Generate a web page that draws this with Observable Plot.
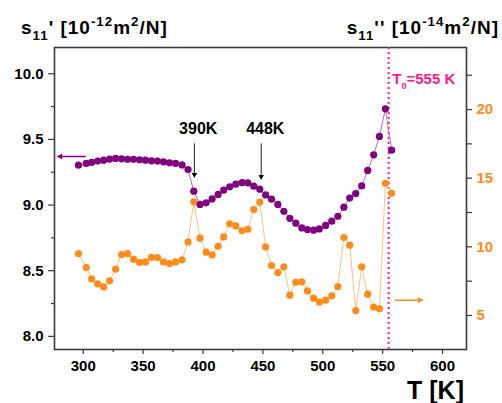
<!DOCTYPE html>
<html><head><meta charset="utf-8">
<script src="https://cdn.jsdelivr.net/npm/d3@7"></script>
<script src="https://cdn.jsdelivr.net/npm/@observablehq/plot@0.6"></script>
<style>body{margin:0;background:#fff} svg{display:block}</style>
</head><body><div id="chart"></div>
<script>
// Temperature [K]
const T = [296, 302.5, 307, 312, 317, 322, 327, 332, 337, 342, 347, 352, 357, 362, 367, 372, 377, 382.5, 387.5, 392.3,
  397.5, 402.6, 407.6, 412.6, 417.3, 422.3, 427.4, 432.6, 437.4, 442.4, 447.4, 452.3, 457.2, 462.5, 467.5, 472.5,
  477.5, 482.5, 487.2, 492.3, 497.1, 502.4, 507.5, 512.6, 517.6, 522.5, 527.5, 532.5, 537.5, 542.5, 547.3, 552.3, 557.5];
// s11' [1e-12 m2/N]  (left axis)
const s11re = [9.304, 9.317, 9.325, 9.335, 9.342, 9.350, 9.355, 9.352, 9.348, 9.348, 9.345, 9.342, 9.337, 9.335, 9.329,
  9.322, 9.317, 9.306, 9.271, 9.106, 9.005, 9.017, 9.047, 9.081, 9.114, 9.139, 9.159, 9.171, 9.169, 9.144, 9.121,
  9.077, 9.045, 9.005, 8.952, 8.899, 8.862, 8.826, 8.813, 8.809, 8.818, 8.845, 8.877, 8.915, 8.984, 9.053, 9.088,
  9.146, 9.264, 9.383, 9.523, 9.733, 9.418];
// s11'' [1e-14 m2/N]  (right axis)
const s11im = [9.51, 8.49, 7.66, 7.30, 7.08, 7.52, 8.37, 9.44, 9.51, 9.10, 8.86, 8.90, 9.24, 9.22, 8.90, 8.78, 8.90,
  9.05, 10.36, 13.28, 10.63, 9.61, 9.41, 10.04, 10.72, 11.68, 11.52, 11.17, 11.28, 12.71, 13.26, 9.99, 8.64, 8.13,
  8.54, 6.48, 7.42, 7.45, 6.79, 6.26, 5.97, 6.11, 6.43, 7.11, 10.68, 10.12, 5.36, 8.54, 6.55, 5.60, 5.48, 14.63, 13.90];

const xTicks = [300, 350, 400, 450, 500, 550, 600];
const xMinor = [325, 375, 425, 475, 525, 575];
const leftTicks = [8.0, 8.5, 9.0, 9.5, 10.0];
const leftMinor = [8.25, 8.75, 9.25, 9.75];
const rightTicks = [5, 10, 15, 20];
const rightMinor = [7.5, 12.5, 17.5, 22.5];
const leftDomain = [7.9, 10.2];
const rightDomain = [2.52, 24.52];
const xDomain = [276, 620];
const T0 = 555;

// annotations: label, label position, arrow (x, yFrom, yTo)
const annLabels = ["390K", "448K"];
const annLabelX = [396, 452];
const annLabelY = [9.58, 9.58];
const annArrowX = [392.8, 448.6];
const annArrowY1 = [9.47, 9.47];
const annArrowY2 = [9.213, 9.198];
// axis-pointer arrows
const leftPtr = {x1: 302, x2: 278.5, y: 9.37};      // purple, left axis
const rightPtr = {x1: 560, x2: 583.5, v: 6.11};     // orange, right axis

const toLeft = v => leftDomain[0] + (v - rightDomain[0]) / (rightDomain[1] - rightDomain[0]) * (leftDomain[1] - leftDomain[0]);

const data = T.map((t, i) => ({T: t, re: s11re[i], im: toLeft(s11im[i])}));
const ann = annLabels.map((l, i) => ({l, x: annLabelX[i], y: annLabelY[i], ax: annArrowX[i], y1: annArrowY1[i], y2: annArrowY2[i]}));

const PURPLE = "#800080", ORANGE = "#ff8c1a", PINK = "#ff1a8c", AX = "#3a3a3a";
const FONT = "'Liberation Sans', Arial, Helvetica, sans-serif";

const plot = Plot.plot({
  width: 502, height: 403,
  marginLeft: 54, marginRight: 36, marginTop: 47, marginBottom: 54,
  style: {fontFamily: FONT, fontWeight: "bold", fontSize: "15px", color: "#000", background: "#fff"},
  x: {domain: xDomain, label: null},
  y: {domain: leftDomain, label: null},
  marks: [
    Plot.axisX({ticks: xTicks, tickSize: 5, tickPadding: 6, label: null, stroke: AX, strokeWidth: 1.2, fontSize: 15, fontWeight: "bold"}),
    Plot.axisX({ticks: xMinor, tickSize: 3, tickFormat: () => "", label: null, stroke: AX, strokeWidth: 1.2}),
    Plot.axisY({ticks: leftTicks, tickSize: 6, tickPadding: 5, tickFormat: d => d.toFixed(1), label: null, stroke: AX, strokeWidth: 1.2, fontSize: 15, fontWeight: "bold"}),
    Plot.axisY({ticks: leftMinor, tickSize: 3, tickFormat: () => "", label: null, stroke: AX, strokeWidth: 1.2}),
    Plot.axisY({anchor: "right", ticks: rightTicks.map(toLeft), tickSize: 5, tickPadding: 5,
      tickFormat: (d, i) => String(rightTicks[i]), label: null, stroke: AX, strokeWidth: 1.2, fill: ORANGE, fontSize: 15, fontWeight: "bold"}),
    Plot.axisY({anchor: "right", ticks: rightMinor.map(toLeft), tickSize: 5, tickFormat: () => "", label: null, stroke: AX, strokeWidth: 1.2}),
    Plot.frame({stroke: AX, strokeWidth: 1.6}),
    Plot.ruleX([T0], {stroke: PINK, strokeWidth: 2, strokeDasharray: "2,3"}),
    Plot.line(data, {x: "T", y: "im", stroke: "#ffc080", strokeWidth: 1}),
    Plot.line(data, {x: "T", y: "re", stroke: "#b770b7", strokeWidth: 1}),
    Plot.dot(data, {x: "T", y: "im", r: 3.6, fill: ORANGE, stroke: "none"}),
    Plot.dot(data, {x: "T", y: "re", r: 3.6, fill: PURPLE, stroke: "none"}),
    // annotation arrows
    Plot.link(ann, {x1: "ax", x2: "ax", y1: "y1", y2: "y2", stroke: "#222", strokeWidth: 1}),
    Plot.dot(ann, {x: "ax", y: "y2", symbol: "triangle2", r: 2.6, rotate: 180, dy: -2.5, fill: "#000", stroke: "none"}),
    Plot.text(ann, {x: "x", y: "y", text: "l", fontSize: 16, fontWeight: "bold", fill: "#000"}),
    // axis pointer arrows
    Plot.link([leftPtr], {x1: "x1", x2: "x2", y1: "y", y2: "y", stroke: PURPLE, strokeWidth: 1.5}),
    Plot.dot([leftPtr], {x: "x2", y: "y", symbol: "triangle2", r: 2.8, rotate: -90, dx: 3, fill: PURPLE, stroke: "none"}),
    Plot.link([rightPtr], {x1: "x1", x2: "x2", y1: d => toLeft(d.v), y2: d => toLeft(d.v), stroke: ORANGE, strokeWidth: 1.5}),
    Plot.dot([rightPtr], {x: "x2", y: d => toLeft(d.v), symbol: "triangle2", r: 2.8, rotate: 90, dx: -3, fill: ORANGE, stroke: "none"})
  ]
});

const svg = d3.select(plot);
const xs = plot.scale("x");

function addText(x, y, size, color, anchor, parts, spacing = 0, ratio = 0.7) {
  const t = svg.append("text").attr("x", x).attr("y", y)
    .attr("font-family", FONT).attr("font-weight", "bold").attr("font-size", size)
    .attr("fill", color).attr("text-anchor", anchor).attr("letter-spacing", spacing);
  let prev = 0;
  parts.forEach(p => {
    const shift = p.sub ? size * 0.3 : p.sup ? -size * 0.4 : 0;
    const s = t.append("tspan").text(p.t).attr("dy", shift - prev);
    if (p.sub || p.sup) s.attr("font-size", size * ratio);
    prev = shift;
  });
  return t;
}
// left title
addText(21, 34, 19, "#000", "start", [
  {t: "s"}, {t: "11", sub: true}, {t: "' [10"}, {t: "-12", sup: true}, {t: "m"}, {t: "2", sup: true}, {t: "/N]"}
], 1);
// right title
addText(499, 34, 19, "#000", "end", [
  {t: "s"}, {t: "11", sub: true}, {t: "'' [10"}, {t: "-14", sup: true}, {t: "m"}, {t: "2", sup: true}, {t: "/N]"}
], 1);
// x axis title
addText(464, 399, 25, "#000", "end", [{t: "T [K]"}]);
// T0 label
addText(xs.apply(558.5), 84, 15, PINK, "start", [
  {t: "T"}, {t: "0", sub: true}, {t: "=555 K"}
], 0, 0.6);

document.getElementById("chart").appendChild(plot);
</script>
</body></html>
